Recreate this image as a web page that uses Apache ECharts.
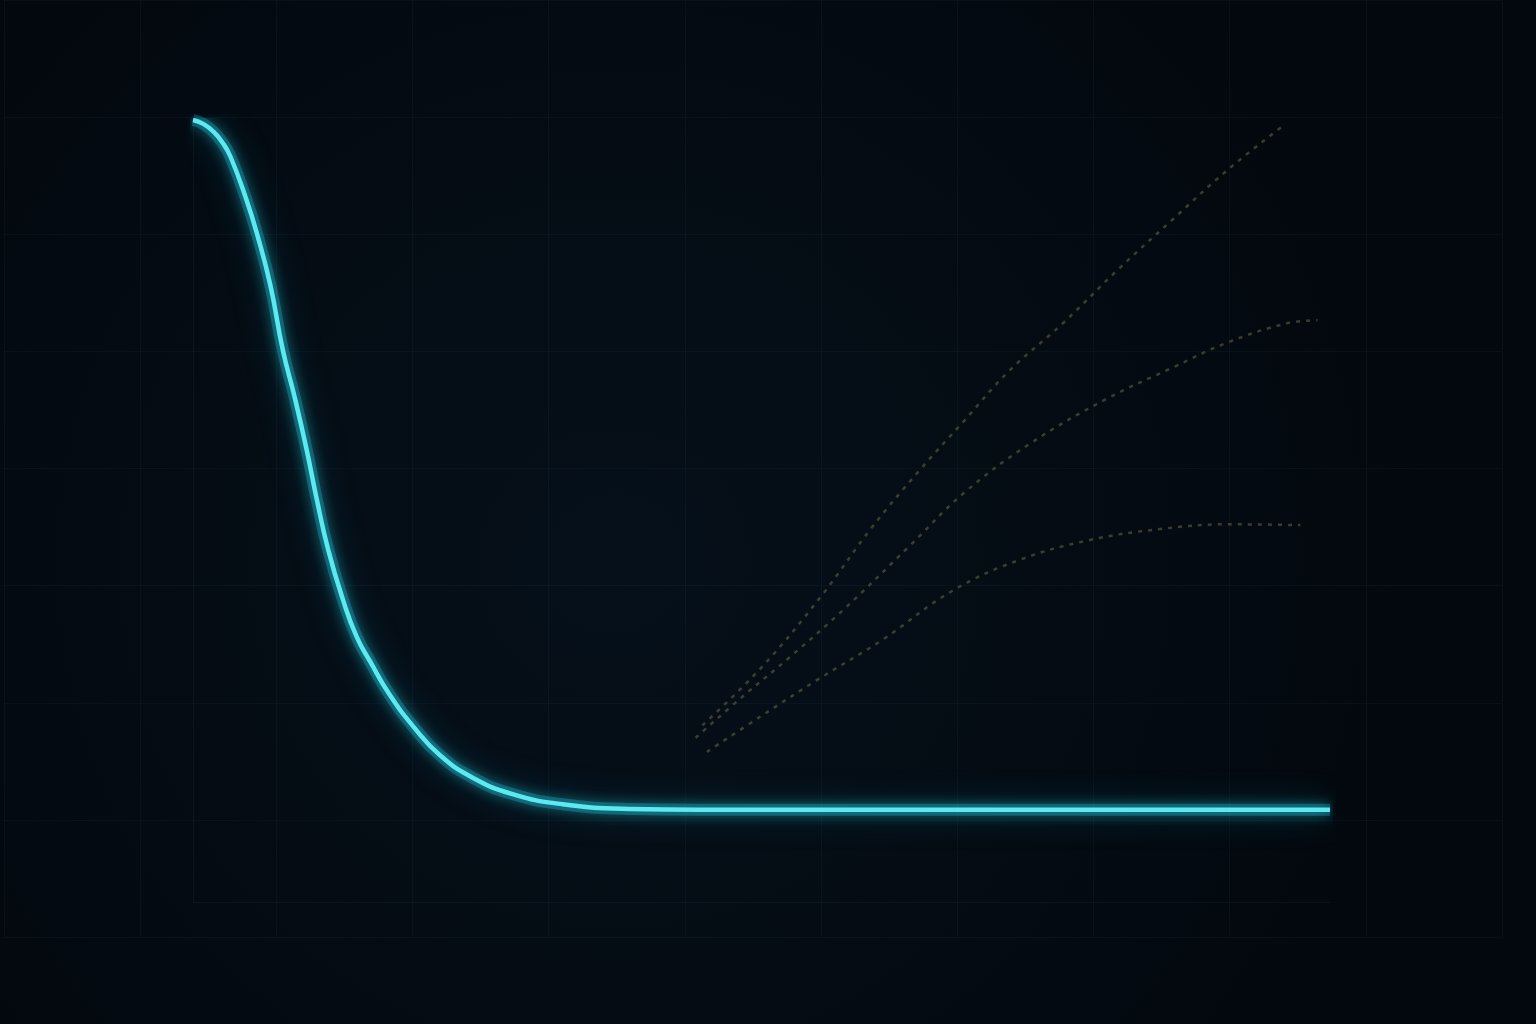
<!DOCTYPE html>
<html>
<head>
<meta charset="utf-8">
<script src="https://cdn.jsdelivr.net/npm/echarts@6/dist/echarts.min.js"></script>
<style>
  html, body { margin: 0; padding: 0; background: #050b13; }
  #chart { width: 1536px; height: 1024px; }
</style>
</head>
<body>
<div id="chart"></div>
<script>
// main decay curve: x (0-100), value (0-100)
var decayX = [0, 0.9, 1.8, 2.6, 3.3, 4.7, 5.6, 6.8, 7.9, 9.0, 10.0, 10.9, 11.9, 13.2, 14.4, 15.6, 17.3, 19.4, 21.7, 24.6, 28.1, 32.5, 38.4, 44.6, 60, 80, 100];
var decayY = [100, 99.5, 98.5, 97.1, 95.3, 89.8, 85.6, 78.9, 70.6, 64.2, 57.8, 51.4, 45.0, 38.6, 33.9, 30.7, 26.5, 22.4, 18.8, 15.9, 13.8, 12.5, 11.9, 11.8, 11.8, 11.8, 11.8];

// faint dotted ghost curves
var ghostTopX = [44.8, 50.0, 55.3, 59.6, 63.9, 67.8, 71.7, 76.5, 81.3, 86.1, 90.9, 96.0];
var ghostTopY = [22.6, 30.0, 39.2, 47.7, 55.2, 61.5, 67.8, 74.0, 80.8, 87.2, 93.5, 99.4];
var ghostMidX = [44.2, 48.6, 52.4, 57.3, 63.0, 67.8, 73.6, 80.3, 86.1, 90.9, 96.2, 98.9];
var ghostMidY = [21.0, 26.6, 31.2, 37.5, 45.5, 52.3, 58.6, 64.3, 68.3, 71.5, 74.0, 74.4];
var ghostLowX = [45.2, 50.0, 54.9, 60.6, 66.8, 72.6, 78.9, 85.1, 90.9, 97.4];
var ghostLowY = [19.2, 23.8, 28.4, 33.5, 39.8, 43.7, 46.3, 47.7, 48.3, 48.2];

function pairs(xs, ys) {
    var out = [];
    for (var i = 0; i < xs.length; i++) {
        out.push([xs[i], ys[i]]);
    }
    return out;
}

var myChart = echarts.init(document.getElementById('chart'));

var ghostStyle = {
    color: 'rgba(105, 104, 72, 0.55)',
    width: 2.5,
    type: [4, 6]
};

var option = {
    backgroundColor: {
        type: 'radial', x: 0.4, y: 0.55, r: 0.8,
        colorStops: [
            { offset: 0, color: '#06101a' },
            { offset: 1, color: '#03080e' }
        ]
    },
    animation: false,
    grid: [
        // plot area
        { left: 193, top: 120, width: 1137, height: 782 },
        // background lattice
        { left: 4, top: 0, width: 1498, height: 937 }
    ],
    xAxis: [
        {
            gridIndex: 0, type: 'value', min: 0, max: 100,
            axisLine: { show: true, lineStyle: { color: 'rgba(70, 120, 150, 0.09)', width: 1 } },
            axisTick: { show: false }, axisLabel: { show: false }, splitLine: { show: false }
        },
        {
            gridIndex: 1, type: 'value', min: 0, max: 11, interval: 1,
            axisLine: { show: false }, axisTick: { show: false }, axisLabel: { show: false },
            splitLine: { show: true, lineStyle: { color: 'rgba(60, 110, 140, 0.08)', width: 1 } }
        }
    ],
    yAxis: [
        {
            gridIndex: 0, type: 'value', min: 0, max: 100,
            axisLine: { show: true, lineStyle: { color: 'rgba(70, 120, 150, 0.09)', width: 1 } },
            axisTick: { show: false }, axisLabel: { show: false }, splitLine: { show: false }
        },
        {
            gridIndex: 1, type: 'value', min: 0, max: 8, interval: 1,
            axisLine: { show: false }, axisTick: { show: false }, axisLabel: { show: false },
            splitLine: { show: true, lineStyle: { color: 'rgba(60, 110, 140, 0.08)', width: 1 } }
        }
    ],
    series: [
        {
            type: 'line', xAxisIndex: 0, yAxisIndex: 0,
            data: pairs(ghostTopX, ghostTopY), smooth: 0.4, showSymbol: false,
            lineStyle: ghostStyle
        },
        {
            type: 'line', xAxisIndex: 0, yAxisIndex: 0,
            data: pairs(ghostMidX, ghostMidY), smooth: 0.4, showSymbol: false,
            lineStyle: ghostStyle
        },
        {
            type: 'line', xAxisIndex: 0, yAxisIndex: 0,
            data: pairs(ghostLowX, ghostLowY), smooth: 0.4, showSymbol: false,
            lineStyle: ghostStyle
        },
        // glow underlay
        {
            type: 'line', xAxisIndex: 0, yAxisIndex: 0,
            data: pairs(decayX, decayY), smooth: 0.5, showSymbol: false,
            lineStyle: {
                color: 'rgba(30, 190, 215, 0.3)', width: 12,
                shadowBlur: 34, shadowColor: 'rgba(20, 180, 210, 0.75)'
            }
        },
        {
            type: 'line', xAxisIndex: 0, yAxisIndex: 0,
            data: pairs(decayX, decayY), smooth: 0.5, showSymbol: false,
            lineStyle: {
                color: '#5ceaf0', width: 4.5,
                shadowBlur: 14, shadowColor: 'rgba(40, 215, 235, 1)'
            }
        }
    ]
};

myChart.setOption(option);
</script>
</body>
</html>
